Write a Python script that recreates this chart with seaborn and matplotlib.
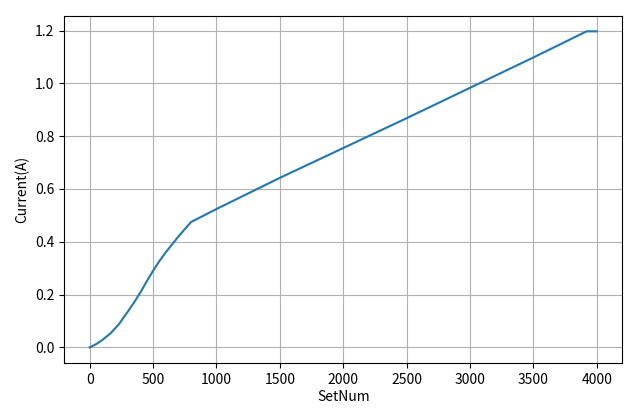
import matplotlib
matplotlib.use("Agg")
from matplotlib import pyplot as plt
import seaborn as sns

# values
set_num = [0, 50, 100, 166, 231, 300, 350, 400, 450, 500, 550, 600, 700, 800, 1000, 1500, 2000, 2500, 3000, 3500, 3920, 4000]
current = [0.0, 0.012, 0.028, 0.054, 0.088, 0.135, 0.170, 0.208, 0.250, 0.290, 0.327, 0.360, 0.420, 0.475, 0.524, 0.642, 0.755, 0.868, 0.983, 1.098, 1.197, 1.197]

plt.rcParams['font.family'] = ['Noto Sans CJK SC', 'DejaVu Sans']
plt.rcParams['axes.unicode_minus'] = False

fig, ax = plt.subplots(figsize=(6.4, 4.09), dpi=100)
sns.lineplot(x=set_num, y=current, ax=ax, color="#1f77b4", linewidth=1.5)
ax.set_xlabel("SetNum", labelpad=2)
ax.set_ylabel("Current(A)")
ax.set_xticks([0, 500, 1000, 1500, 2000, 2500, 3000, 3500, 4000])
ax.set_yticks([0.0, 0.2, 0.4, 0.6, 0.8, 1.0, 1.2])
ax.grid(True, color="#b0b0b0", linewidth=0.8)
fig.subplots_adjust(left=0.1005, right=0.972, top=0.962, bottom=0.112)
fig.savefig("out.png", dpi=100)
